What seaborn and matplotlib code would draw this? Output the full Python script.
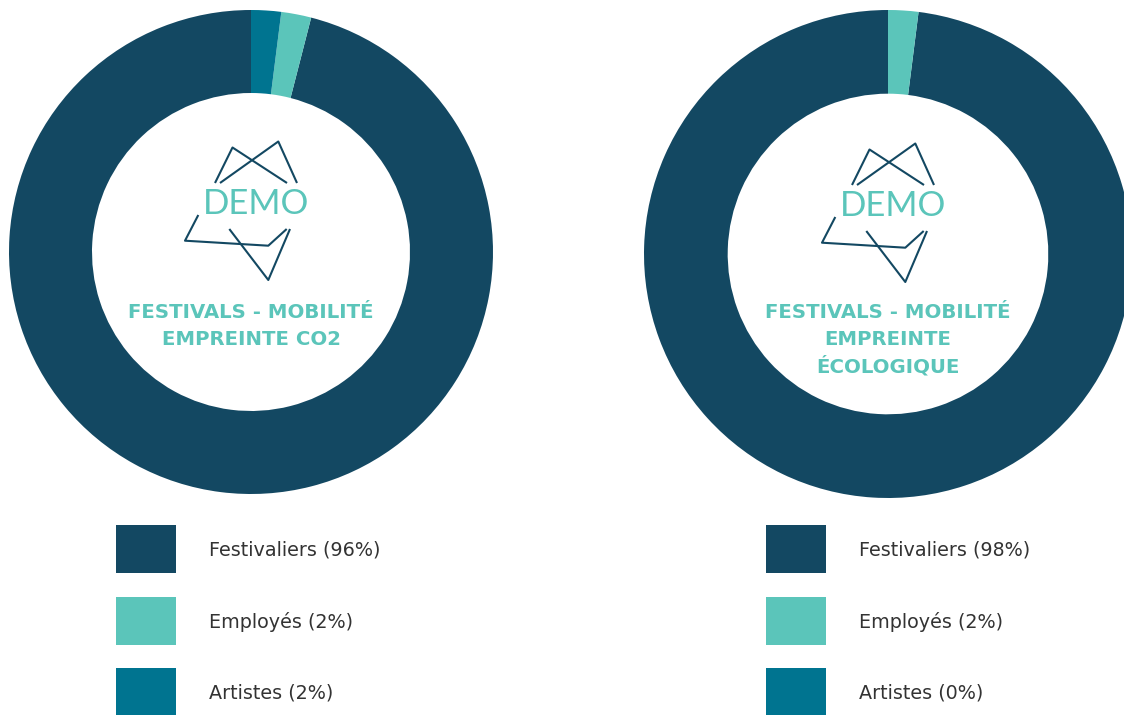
import matplotlib.pyplot as plt
import seaborn as sns
from matplotlib.patches import Rectangle

# Donnees des deux graphiques
categories = ["Festivaliers", "Employés", "Artistes"]
co2_values = [96, 2, 2]
eco_values = [98, 2, 0]
titles = ["FESTIVALS - MOBILITÉ\nEMPREINTE CO2",
          "FESTIVALS - MOBILITÉ\nEMPREINTE\nÉCOLOGIQUE"]

colors = ["#134862", "#5bc5ba", "#007490"]
W, H = 1124, 715

sns.set_theme(style="white")
plt.rcParams['font.family'] = ['DejaVu Sans']

fig = plt.figure(figsize=(W / 100, H / 100), dpi=100)

# Logo (decor) : segments en pixels relatifs au centre
logo_lines = [
    [(-36, -69), (-18.5, -104.5), (36, -69)],
    [(-31, -69), (27.3, -110.5), (46, -69)],
    [(-52.7, -37), (-66, -11.3), (17.3, -6.3), (35.7, -23)],
    [(-21.7, -23), (17.3, 28), (39, -23)],
]

# (centre x, centre y, rayon) en pixels
layout = [(251, 252, 242), (888, 254, 244)]
legend_x = [116, 766]


def draw_donut(values, title, cx, cy, r):
    ax = fig.add_axes([(cx - r) / W, (H - cy - r) / H, 2 * r / W, 2 * r / H])
    ax.pie(values, colors=colors, startangle=90, radius=1,
           wedgeprops=dict(width=0.343, linewidth=0))
    ax.set_xlim(-1, 1)
    ax.set_ylim(-1, 1)
    ax.set_aspect('equal')
    ax.axis('off')
    for pts in logo_lines:
        xs = [p[0] / r for p in pts]
        ys = [-p[1] / r for p in pts]
        ax.plot(xs, ys, color="#134862", lw=1.5, solid_capstyle='butt')
    ax.text(5 / r, 48.5 / r, "DEMO", ha='center', va='center',
            fontsize=25, color="#5bc5ba", fontweight='normal',
            family=['Lato', 'DejaVu Sans'])
    # une ligne de titre a la fois, pour garder l'interligne du modele
    first_base = 318.5 - cy
    for i, line in enumerate(title.split("\n")):
        ax.text(0, -(first_base + i * 26.8) / r, line, ha='center',
                va='baseline', fontsize=14.2, fontweight='bold',
                color="#5bc5ba", clip_on=False)
    return ax


for values, title, (cx, cy, r) in zip([co2_values, eco_values], titles, layout):
    draw_donut(values, title, cx, cy, r)

# Legendes
leg_ax = fig.add_axes([0, 0, 1, 1], zorder=-1)
leg_ax.set_xlim(0, W)
leg_ax.set_ylim(H, 0)
leg_ax.axis('off')
row_y = [549, 621, 692]
for lx, values in zip(legend_x, [co2_values, eco_values]):
    for i, (cat, val) in enumerate(zip(categories, values)):
        leg_ax.add_patch(Rectangle((lx, row_y[i] - 24), 60, 48,
                                   color=colors[i], lw=0))
        leg_ax.text(lx + 93, row_y[i] + 1, f"{cat} ({val}%)", ha='left',
                    va='center', fontsize=13.8, color="#333333")

fig.savefig("out.png", dpi=100)
